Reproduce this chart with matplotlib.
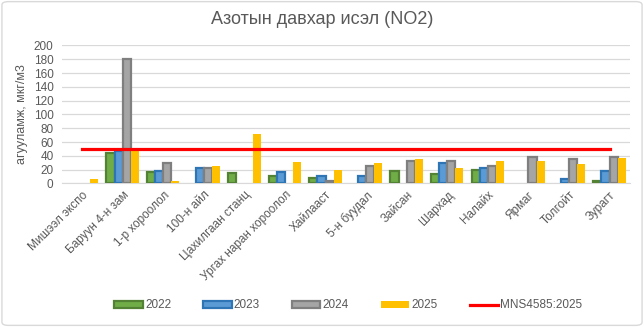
import numpy as np
import matplotlib
matplotlib.use("Agg")
import matplotlib.pyplot as plt
from matplotlib.patches import Patch, FancyBboxPatch
from matplotlib.lines import Line2D

plt.rcParams['font.family'] = ['Liberation Sans', 'DejaVu Sans']

# Өгөгдөл
stations = ["Мишээл экспо", "Баруун 4-н зам", "1-р хороолол", "100-н айл",
            "Цахилгаан станц", "Ургах наран хороолол", "Хайлааст", "5-н буудал",
            "Зайсан", "Шархад", "Налайх", "Ярмаг", "Толгойт", "Зурагт"]
v2022 = [None, 44, 16, None, 14.5, 11.5, 8.5, None, 17.5, 13, 20, None, None, 4]
v2023 = [None, 47, 18, 22, None, 16, 10.5, 11.5, None, 30, 22, None, 7, 17.5]
v2024 = [None, 180, 30, 22, None, None, 3.5, 26, 32, 32, 25, 39, 36, 39]
v2025 = [6, 48, 3, 25, 71.5, 31, 19.5, 29.5, 35, 22, 32.5, 32.5, 28.5, 36.5]
limit = 50
limit_label = "MNS4585:2025"

series = [
    ("2022", v2022, "#70AD47", "#548235"),
    ("2023", v2023, "#5B9BD5", "#2E75B6"),
    ("2024", v2024, "#A5A5A5", "#7F7F7F"),
    ("2025", v2025, "#FFC000", "#FFC000"),
]

txt = "#595959"
fig = plt.figure(figsize=(6.44, 3.27), dpi=100)
ax = fig.add_axes([0.096, 0.439, 0.882, 0.422])

x = np.arange(len(stations))
w = 0.2
for i, (name, vals, fc, ec) in enumerate(series):
    xs = [xx + (i - 1.5) * w for xx, v in zip(x, vals) if v is not None]
    hs = [v for v in vals if v is not None]
    lw = 1.6 if name != "2025" else 0
    ax.bar(xs, hs, width=w, color=fc, edgecolor=ec, linewidth=lw, zorder=3)

ax.plot(x, [limit] * len(x), color="#FF0000", linewidth=2.3, zorder=4)

ax.set_xlim(-0.5, len(stations) - 0.5)
ax.set_ylim(0, 200)
ax.set_yticks(np.arange(0, 201, 20))
ax.grid(axis="y", color="#D9D9D9", linewidth=0.9, zorder=0)
for s in ["top", "right", "left"]:
    ax.spines[s].set_visible(False)
ax.spines["bottom"].set_color("#D9D9D9")
ax.tick_params(axis="both", length=0, colors=txt, labelsize=8.5)
ax.tick_params(axis="y", pad=6)
ax.set_xticks(x)
ax.set_xticklabels(stations, rotation=45, ha="right", rotation_mode="anchor",
                   color=txt, fontsize=8.5)
ax.tick_params(axis="x", pad=4)
ax.set_ylabel("агууламж, мкг/м3", color=txt, fontsize=9, labelpad=4)
fig.suptitle("Азотын давхар исэл (NO2)", x=0.5, y=0.965, fontsize=13, color=txt)

handles = [Patch(facecolor=fc, edgecolor=ec, linewidth=1.6 if n != "2025" else 0)
           for n, _, fc, ec in series]
handles.append(Line2D([0], [0], color="#FF0000", linewidth=2.3))
labels = [n for n, _, _, _ in series] + [limit_label]
fig.legend(handles, labels, loc="center", bbox_to_anchor=(0.541, 0.066), ncol=5,
           frameon=False, fontsize=8.5, labelcolor=txt, handlelength=2.4,
           handleheight=0.5, handletextpad=0.2, columnspacing=2.7)

fig.patches.append(FancyBboxPatch((0.003, 0.005), 0.994, 0.99,
                                  boxstyle="round,pad=0,rounding_size=0.01",
                                  transform=fig.transFigure, fill=False,
                                  edgecolor="#D9D9D9", linewidth=1))

fig.savefig("out.png", dpi=100)
